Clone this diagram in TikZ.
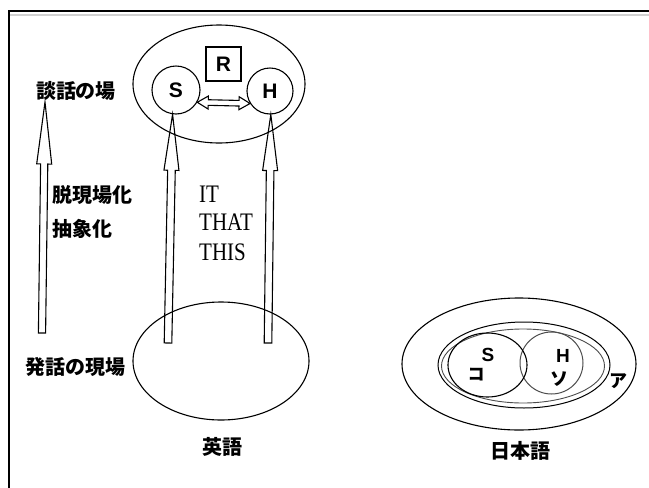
\documentclass[tikz,border=0pt]{standalone}
\usepackage{fontspec}
\usepackage{graphicx}
\setmainfont{Liberation Serif}
\newfontfamily\jp{Noto Sans CJK JP}
\newfontfamily\lsans{Liberation Sans}
\usetikzlibrary{shapes.geometric,calc}
\tikzset{
  ell/.style={draw, ellipse, inner sep=0pt, line width=1.1pt},
  circ/.style={draw, circle, inner sep=0pt, line width=1.1pt},
  harrow/.style={draw, line width=1.1pt, line join=miter},
  jlabel/.style={font=\jp\bfseries\fontsize{20}{22}\selectfont, inner sep=0pt},
  letter/.style={font=\lsans\bfseries\fontsize{21}{23}\selectfont, inner sep=0pt},
  eng/.style={font=\fontsize{21}{23}\selectfont, inner sep=0pt, anchor=base west},
}
% hollow single arrow: base, tip, head length, shaft half width, head half width
\newcommand\hollowarrow[5]{%
  \path ($(#2)!#3!(#1)$) coordinate (hn);
  \draw[harrow] ($(#1)!#4!90:(#2)$) -- ($(hn)!#4!90:(#2)$) -- ($(hn)!#5!90:(#2)$) -- (#2)
     -- ($(hn)!#5!-90:(#2)$) -- ($(hn)!#4!-90:(#2)$) -- ($(#1)!#4!-90:(#2)$) -- cycle;
}
% hollow double arrow
\newcommand\hollowdbl[5]{%
  \path ($(#1)!#3!(#2)$) coordinate (da) ($(#2)!#3!(#1)$) coordinate (db);
  \draw[harrow] (#1) -- ($(da)!#5!90:(#2)$) -- ($(da)!#4!90:(#2)$) -- ($(db)!#4!90:(#2)$)
     -- ($(db)!#5!90:(#2)$) -- (#2) -- ($(db)!#5!-90:(#2)$) -- ($(db)!#4!-90:(#2)$)
     -- ($(da)!#4!-90:(#2)$) -- ($(da)!#5!-90:(#2)$) -- cycle;
}
\begin{document}
\begin{tikzpicture}[x=1pt,y=-1pt]
\useasboundingbox (0,0) rectangle (649,488);
% frame
\draw[line width=2pt] (9,10.8) -- (649,10.8);
\draw[black!18, line width=1.6pt] (10,15.2) -- (649,15.2);
\draw[line width=2.2pt] (9.2,10) -- (9.2,488);

% ---- English diagram ----
\node[ell, minimum width=172pt, minimum height=118pt] (top) at (219,84) {};
\node[ell, minimum width=176pt, minimum height=118pt] (bot) at (221,361) {};
\node[circ, minimum size=48pt, letter] (S) at (176,90) {S};
\node[circ, minimum size=46pt, letter] (H) at (270,91) {H};
\node[draw, line width=1.2pt, minimum width=35pt, minimum height=34pt, letter] (R) at (223.5,64) {R};
\hollowdbl{S.-30}{H.212}{11pt}{2.8pt}{6.5pt}

\coordinate (sbase) at (168,343);
\coordinate (hbase) at (268,343);
\coordinate (lbase) at (42,333);
\coordinate (ltip) at (45,102);
\hollowarrow{sbase}{S.262}{56pt}{3.8pt}{7.5pt}
\hollowarrow{hbase}{H.272}{56pt}{3.8pt}{7.5pt}
\hollowarrow{lbase}{ltip}{62pt}{3.6pt}{7.5pt}

\node[jlabel] (danwa) at (76,91) {談話の場};
\node[jlabel, anchor=west] (datsu) at (52,195) {脱現場化};
\node[jlabel, anchor=west] (chusho) at (52,229) {抽象化};
\node[jlabel] (hatsuwa) at (76,367) {発話の現場};
\node[jlabel] (eigo) at (222,447) {英語};

\node[eng] (it) at (199,202) {\scalebox{1}[1.2]{IT}};
\node[eng] (that) at (199,230.5) {\scalebox{1}[1.2]{THAT}};
\node[eng] (this) at (199,260) {\scalebox{1}[1.2]{THIS}};

% ---- Japanese diagram ----
\node[ell, minimum width=234pt, minimum height=132pt] (outer) at (519,364) {};
\node[ell, line width=1pt, minimum width=172pt, minimum height=86pt] (mid) at (524,365) {};
\node[ell, line width=0.9pt, draw=black!70, minimum width=163pt, minimum height=74pt] (mid2) at (523,366) {};
\node[ell, line width=1pt, draw=black!70, minimum width=63pt, minimum height=62pt] (hc) at (551.5,363) {};
\node[ell, minimum width=79pt, minimum height=64pt] (sc) at (487.5,365) {};

\node[letter, font=\lsans\bfseries\fontsize{19}{21}\selectfont] (s2) at (488,355) {S};
\node[jlabel, font=\jp\bfseries\fontsize{17}{19}\selectfont] (ko) at (476,374.5) {コ};
\node[letter, font=\lsans\bfseries\fontsize{19}{21}\selectfont] (h2) at (563,356) {H};
\node[jlabel, font=\jp\bfseries\fontsize{18}{20}\selectfont] (so) at (559,379) {ソ};
\node[jlabel, font=\jp\bfseries\fontsize{18}{20}\selectfont] (a) at (618,381) {ア};
\node[jlabel] (nihongo) at (520,451) {日本語};
\end{tikzpicture}
\end{document}
